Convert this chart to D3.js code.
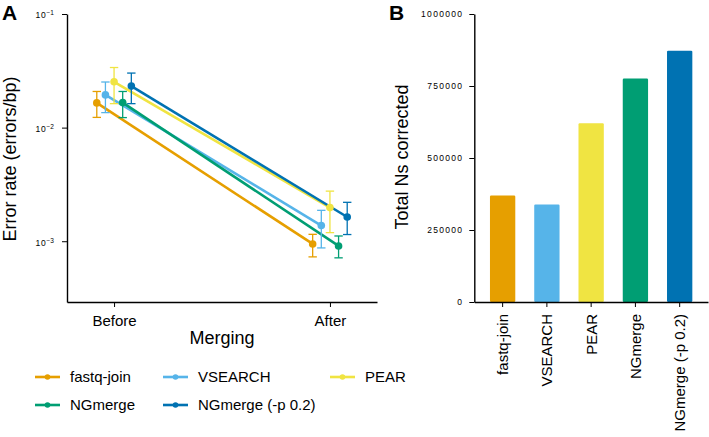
<!DOCTYPE html>
<html><head><meta charset="utf-8">
<script src="https://cdn.jsdelivr.net/npm/d3@7"></script>
<style>
body{margin:0;background:#fff;}
text{font-family:"Liberation Sans",Arial,sans-serif;fill:#000;}
</style></head>
<body><svg id="c" width="709" height="437"></svg>
<script>
const seriesNames = ["fastq-join","VSEARCH","PEAR","NGmerge","NGmerge (-p 0.2)"];
const seriesColors = ["#E69F00","#56B4E9","#F0E442","#009E73","#0072B2"];
const stages = ["Before","After"];
const errBefore   = [0.0165, 0.0194, 0.0253, 0.0166, 0.0232];
const errBeforeLo = [0.0123, 0.01355, 0.01625, 0.01225, 0.01625];
const errBeforeHi = [0.0208, 0.0252, 0.0338, 0.0208, 0.0302];
const errAfter    = [0.000946, 0.001374, 0.001976, 0.000909, 0.001634];
const errAfterLo  = [0.000728, 0.000873, 0.00119, 0.000714, 0.001145];
const errAfterHi  = [0.00115, 0.00187, 0.00276, 0.001112, 0.0022];
const nsCorrected = [370000, 338800, 620700, 775700, 872700];
const errTicks = [0.1, 0.01, 0.001];
const errTickExp = ["−1","−2","−3"];
const nsTicks = [0, 250000, 500000, 750000, 1000000];

const svg = d3.select("#c");

// ---------- Panel A ----------
const xA = d3.scalePoint().domain(stages).range([67, 377]).padding(0.218);
const yA = d3.scaleLog().domain([Math.pow(10,-3.535), 0.1]).range([302, 14]);
const dodge = i => (i - 2) * xA.step() * 0.04;

const gA = svg.append("g");
gA.append("text").attr("x", 2).attr("y", 20).attr("font-size", 21).attr("font-weight", "bold").text("A");

const axA = gA.append("g").attr("transform", "translate(67,0)")
  .call(d3.axisLeft(yA).tickValues(errTicks).tickSize(5).tickSizeOuter(0));
axA.select(".domain").attr("stroke-width", 1.4);
axA.selectAll(".tick line").attr("stroke-width", 1);
axA.selectAll(".tick text").each(function(d, i) {
  const t = d3.select(this).text(null).attr("x", -13).attr("font-size", 8.5).attr("letter-spacing", 0.8).attr("dy", "0.45em");
  t.append("tspan").text("10");
  t.append("tspan").attr("dy", "-0.45em").attr("font-size", 6.5).attr("letter-spacing", 0).text(errTickExp[i]);
});
axA.selectAll(".tick text").attr("text-anchor", "end").attr("x", -13);

const axAx = gA.append("g").attr("transform", "translate(0,302)")
  .call(d3.axisBottom(xA).tickSize(5).tickSizeOuter(0));
axAx.select(".domain").attr("stroke-width", 1.4);
axAx.selectAll(".tick text").attr("font-size", 15).attr("dy", "1.05em");

gA.append("text").attr("x", 222).attr("y", 344).attr("text-anchor", "middle").attr("font-size", 18).text("Merging");
gA.append("text").attr("transform", "translate(16,159) rotate(-90)").attr("text-anchor", "middle").attr("font-size", 18).text("Error rate (errors/bp)");

// lines
seriesNames.forEach((s, i) => {
  const pts = [[xA("Before") + dodge(i), yA(errBefore[i])], [xA("After") + dodge(i), yA(errAfter[i])]];
  gA.append("path").attr("d", d3.line()(pts)).attr("stroke", seriesColors[i]).attr("stroke-width", 2.6).attr("fill", "none");
});
// error bars and points
seriesNames.forEach((s, i) => {
  const recs = [
    {st: "Before", v: errBefore[i], lo: errBeforeLo[i], hi: errBeforeHi[i]},
    {st: "After", v: errAfter[i], lo: errAfterLo[i], hi: errAfterHi[i]}
  ];
  recs.forEach(r => {
    const cx = xA(r.st) + dodge(i);
    const g = gA.append("g").attr("stroke", seriesColors[i]).attr("stroke-width", 1.3);
    g.append("line").attr("x1", cx).attr("x2", cx).attr("y1", yA(r.lo)).attr("y2", yA(r.hi));
    g.append("line").attr("x1", cx - 4.2).attr("x2", cx + 4.2).attr("y1", yA(r.lo)).attr("y2", yA(r.lo));
    g.append("line").attr("x1", cx - 4.2).attr("x2", cx + 4.2).attr("y1", yA(r.hi)).attr("y2", yA(r.hi));
    gA.append("circle").attr("cx", cx).attr("cy", yA(r.v)).attr("r", 3.8).attr("fill", seriesColors[i]);
  });
});

// legend
const legPos = [[35, 377], [163, 377], [330, 377], [35, 405], [163, 405]];
seriesNames.forEach((s, i) => {
  const [lx, ly] = legPos[i];
  const g = gA.append("g");
  g.append("line").attr("x1", lx).attr("x2", lx + 25).attr("y1", ly).attr("y2", ly).attr("stroke", seriesColors[i]).attr("stroke-width", 2.6);
  g.append("circle").attr("cx", lx + 12.5).attr("cy", ly).attr("r", 2.8).attr("fill", seriesColors[i]);
  g.append("text").attr("x", lx + 35).attr("y", ly).attr("dy", "0.36em").attr("font-size", 15).text(s);
});

// ---------- Panel B ----------
const xB = d3.scaleBand().domain(seriesNames).range([474.3, 708]).paddingInner(0.428).paddingOuter(0.354);
const yB = d3.scaleLinear().domain([0, 1000000]).range([302, 14]);
const gB = svg.append("g");
gB.append("text").attr("x", 389).attr("y", 20).attr("font-size", 21).attr("font-weight", "bold").text("B");

gB.selectAll("rect").data(seriesNames).join("rect")
  .attr("x", d => xB(d)).attr("width", xB.bandwidth())
  .attr("y", (d, i) => yB(nsCorrected[i])).attr("height", (d, i) => yB(0) - yB(nsCorrected[i]))
  .attr("rx", 1.2)
  .attr("fill", (d, i) => seriesColors[i]);

const axB = gB.append("g").attr("transform", "translate(474.3,0)")
  .call(d3.axisLeft(yB).tickValues(nsTicks).tickFormat(d3.format("d")).tickSize(5).tickSizeOuter(0));
axB.select(".domain").attr("stroke-width", 1.4);
axB.selectAll(".tick text").attr("font-size", 8.5).attr("letter-spacing", 1.3).attr("x", -11);

const axBx = gB.append("g").attr("transform", "translate(0,302)")
  .call(d3.axisBottom(xB).tickSize(5).tickSizeOuter(0));
axBx.select(".domain").attr("stroke-width", 1.4);
axBx.selectAll(".tick text").attr("font-size", 15).attr("text-anchor", "end")
  .attr("transform", "rotate(-90)").attr("x", -12).attr("y", 0).attr("dy", "0.36em");

gB.append("text").attr("transform", "translate(408,157) rotate(-90)").attr("text-anchor", "middle").attr("font-size", 18).text("Total Ns corrected");
</script></body></html>
